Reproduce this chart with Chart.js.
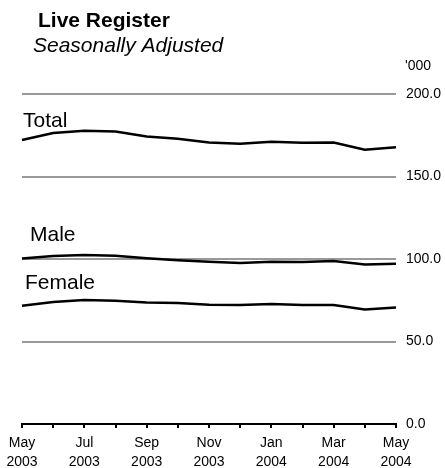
<!DOCTYPE html>
<html>
<head>
<meta charset="utf-8">
<script src="https://cdn.jsdelivr.net/npm/chart.js@4/dist/chart.umd.min.js"></script>
<style>
  html, body { margin: 0; padding: 0; background: #fff; }
  #wrap { position: relative; width: 445px; height: 468px; }
  canvas { display: block; }
</style>
</head>
<body>
<div id="wrap"><canvas id="c" width="445" height="468"></canvas></div>
<script>
// ---- Data ----
const categories = ['May 2003','Jun 2003','Jul 2003','Aug 2003','Sep 2003','Oct 2003','Nov 2003','Dec 2003','Jan 2004','Feb 2004','Mar 2004','Apr 2004','May 2004'];
const tickLabels = [['May','2003'],'',['Jul','2003'],'',['Sep','2003'],'',['Nov','2003'],'',['Jan','2004'],'',['Mar','2004'],'',['May','2004']];
const total  = [172.1,176.3,177.7,177.3,174.3,172.9,170.6,169.8,171.1,170.5,170.6,166.2,167.8];
const male   = [100.3,101.8,102.4,102.0,100.4,99.2,98.4,97.6,98.4,98.2,98.8,96.7,97.1];
const female = [71.7,73.9,75.1,74.7,73.7,73.3,72.3,72.1,72.7,72.1,72.1,69.4,70.6];
const yTicks = [0,50,100,150,200];
const seriesNames = ['Total','Male','Female'];

const FONT = "'Liberation Sans', Arial, Helvetica, sans-serif";

const textPlugin = {
  id: 'texts',
  afterDraw(chart) {
    const ctx = chart.ctx;
    const ca = chart.chartArea;
    ctx.save();
    ctx.fillStyle = '#000';
    ctx.textBaseline = 'alphabetic';
    ctx.textAlign = 'left';
    ctx.font = 'bold 21px ' + FONT;
    ctx.fillText('Live Register', 38, 27);
    ctx.font = 'italic 21px ' + FONT;
    ctx.fillText('Seasonally Adjusted', 33, 52);
    ctx.font = '14px ' + FONT;
    ctx.fillText("'000", 405, 70);
    ctx.font = '21px ' + FONT;
    ctx.fillText(seriesNames[0], ca.left + 1, 127);
    ctx.fillText(seriesNames[1], ca.left + 8, 241);
    ctx.fillText(seriesNames[2], ca.left + 3, 289);
    ctx.restore();
  }
};

function ds(label, data) {
  return { label, data, borderColor: '#000', borderWidth: 2.5, pointRadius: 0, tension: 0, fill: false };
}

new Chart(document.getElementById('c'), {
  type: 'line',
  data: {
    labels: categories,
    datasets: [ds(seriesNames[0], total), ds(seriesNames[1], male), ds(seriesNames[2], female)]
  },
  options: {
    responsive: false,
    animation: false,
    devicePixelRatio: 1,
    layout: { padding: { top: 94, left: 22, right: 0, bottom: 0 } },
    plugins: { legend: { display: false }, tooltip: { enabled: false }, title: { display: false } },
    scales: {
      x: {
        type: 'category',
        offset: false,
        afterFit: (axis) => { axis.height = 44; },
        grid: { display: true, drawOnChartArea: false, drawTicks: true, tickLength: 4, color: '#000', lineWidth: 2 },
        border: { display: true, color: '#000', width: 2 },
        ticks: {
          autoSkip: false, maxRotation: 0, minRotation: 0, color: '#000', padding: 6,
          font: { family: FONT, size: 14, lineHeight: 1.35 },
          callback: (v, i) => tickLabels[i]
        }
      },
      y: {
        position: 'right',
        min: yTicks[0], max: yTicks[yTicks.length - 1],
        afterBuildTicks: (axis) => { axis.ticks = yTicks.map(v => ({ value: v })); },
        afterFit: (axis) => { axis.width = 49; },
        grid: {
          drawTicks: false,
          lineWidth: 2,
          color: (c) => (c.tick && c.tick.value === 0) ? 'rgba(0,0,0,0)' : '#999999'
        },
        border: { display: false },
        ticks: {
          color: '#000', padding: 10,
          font: { family: FONT, size: 14 },
          callback: (v) => Number(v).toFixed(1)
        }
      }
    }
  },
  plugins: [textPlugin]
});
</script>
</body>
</html>
